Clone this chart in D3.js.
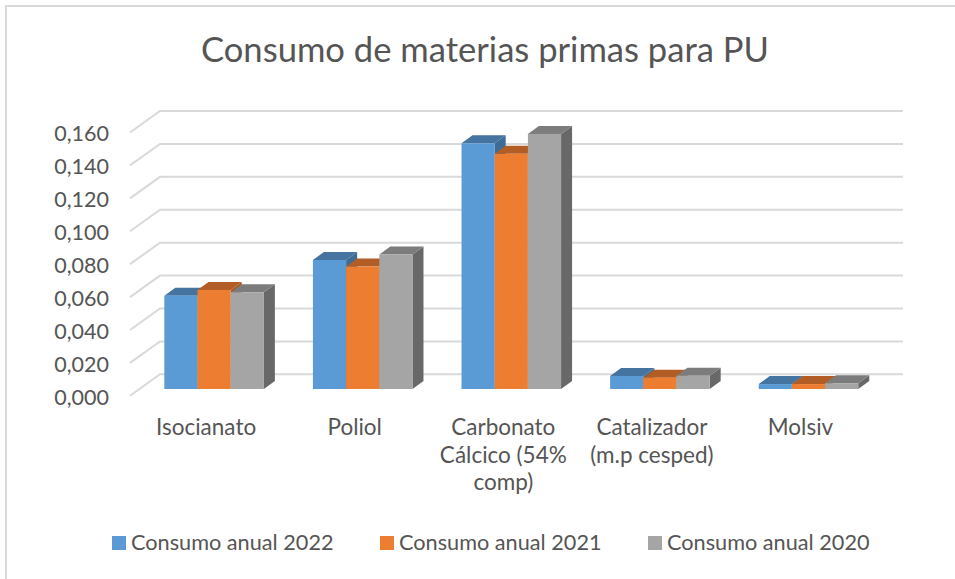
<!DOCTYPE html>
<html>
<head>
<meta charset="utf-8">
<script src="https://cdn.jsdelivr.net/npm/d3@7"></script>
<style>
    html, body { margin: 0; padding: 0; background: #fff; overflow: hidden; }
    text { font-family: Lato, "Open Sans", sans-serif; fill: #555; }
</style>
</head>
<body>
<div id="chart"></div>
<script>
var title = "Consumo de materias primas para PU";
var categories = ["Isocianato", "Poliol", "Carbonato Cálcico (54% comp)", "Catalizador (m.p cesped)", "Molsiv"];
var categoryLines = [["Isocianato"], ["Poliol"], ["Carbonato", "Cálcico (54%", "comp)"], ["Catalizador", "(m.p cesped)"], ["Molsiv"]];
var seriesNames = ["Consumo anual 2022", "Consumo anual 2021", "Consumo anual 2020"];
var consumo2022 = [0.0567, 0.0784, 0.1493, 0.0079, 0.0030];
var consumo2021 = [0.0602, 0.0744, 0.1429, 0.0069, 0.0030];
var consumo2020 = [0.0588, 0.0817, 0.1550, 0.0081, 0.0035];
var yTicks = [0, 0.02, 0.04, 0.06, 0.08, 0.10, 0.12, 0.14, 0.16];

var seriesValues = [consumo2022, consumo2021, consumo2020];
var fronts = ["#5B9BD5", "#ED7D31", "#A5A5A5"];
var tops = ["#44749F", "#B15D25", "#7C7C7C"];
var sides = ["#3E6C95", "#A85820", "#686868"];

var width = 955, height = 579;

var svg = d3.select("#chart").append("svg")
    .attr("width", width)
    .attr("height", height);

// chart border, only left and top are inside the picture
svg.append("path")
    .attr("d", "M6,579V6H955")
    .attr("fill", "none")
    .attr("stroke", "#D9D9D9")
    .attr("stroke-width", 2);

svg.append("text")
    .attr("x", 485)
    .attr("y", 62)
    .attr("text-anchor", "middle")
    .style("font-size", "34.6px")
    .text(title);

// y is the back wall, the front plane sits lower and to the left
var y = d3.scaleLinear().domain([0, 0.16]).range([374.3, 111]);
var wallDx = 30, wallDy = 21.5;
var barBase = 389, barDx = 11, barDy = 8;

var x0 = d3.scaleBand()
    .domain(categories)
    .range([139.8, 882.8])
    .paddingInner(0.33)
    .paddingOuter(0.165);
var x1 = d3.scaleBand()
    .domain(d3.range(3))
    .range([0, x0.bandwidth()]);

// gridlines
var grid = svg.append("g")
    .attr("fill", "none")
    .attr("stroke", "#D9D9D9")
    .attr("stroke-width", 2);
grid.selectAll("path")
    .data(yTicks)
    .enter().append("path")
    .attr("d", d => "M130," + (y(d) + wallDy) + "L" + (130 + wallDx) + "," + y(d) + "H903");

// y axis
var yAxis = svg.append("g")
    .attr("transform", "translate(109," + (wallDy + 1.5) + ")")
    .call(d3.axisLeft(y)
        .tickValues(yTicks)
        .tickSize(0)
        .tickPadding(0)
        .tickFormat(d => d3.format(".3f")(d).replace(".", ",")));
yAxis.select(".domain").remove();
yAxis.selectAll("text")
    .attr("fill", null)
    .style("font-size", "21.5px");

// bars, left to right so each front covers the side of the previous one
var h = d => y(0) - y(d);
var groups = svg.selectAll(".group")
    .data(categories)
    .enter().append("g")
    .attr("class", "group")
    .attr("transform", d => "translate(" + x0(d) + ",0)");

groups.each(function(c, ci) {
    var g = d3.select(this);
    seriesValues.forEach(function(vals, si) {
        var left = x1(si), w = x1.bandwidth(), t = barBase - h(vals[ci]);
        g.append("path")
            .attr("fill", sides[si])
            .attr("d", "M" + (left + w) + "," + barBase + "l" + barDx + "," + (-barDy) + "V" + (t - barDy) + "L" + (left + w) + "," + t + "Z");
        g.append("path")
            .attr("fill", tops[si])
            .attr("d", "M" + left + "," + t + "l" + barDx + "," + (-barDy) + "h" + w + "l" + (-barDx) + "," + barDy + "Z");
        g.append("rect")
            .attr("fill", fronts[si])
            .attr("x", left)
            .attr("y", t)
            .attr("width", w)
            .attr("height", h(vals[ci]));
    });
});

// category labels
var labels = svg.selectAll(".cat")
    .data(categories)
    .enter().append("text")
    .attr("class", "cat")
    .attr("text-anchor", "middle")
    .style("font-size", "22.5px");
labels.each(function(c, i) {
    d3.select(this).selectAll("tspan")
        .data(categoryLines[i])
        .enter().append("tspan")
        .attr("x", x0(c) + x0.bandwidth() / 2 - 8)
        .attr("y", (d, j) => 435 + j * 27.5)
        .text(d => d);
});

// legend
var legendX = [112, 380, 648];
var legend = svg.selectAll(".legend")
    .data(seriesNames)
    .enter().append("g")
    .attr("class", "legend")
    .attr("transform", (d, i) => "translate(" + legendX[i] + ",536)");
legend.append("rect")
    .attr("width", 14)
    .attr("height", 14)
    .attr("fill", (d, i) => fronts[i]);
legend.append("text")
    .attr("x", 19)
    .attr("y", 14)
    .style("font-size", "21.7px")
    .text(d => d);
</script>
</body>
</html>
